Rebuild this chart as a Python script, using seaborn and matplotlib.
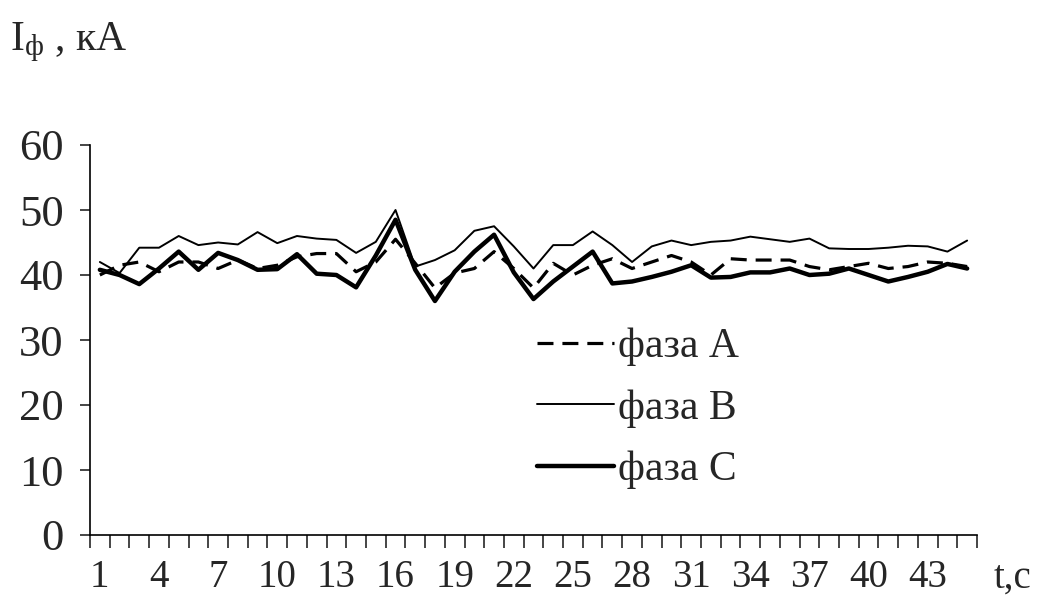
import numpy as np
import pandas as pd
import matplotlib
matplotlib.use("Agg")
import matplotlib.pyplot as plt
import seaborn as sns

# ── Data ──────────────────────────────────────────────────────────────────────
t = list(range(1, 46))
phase_a = [40, 41.5, 42, 40.5, 42, 42, 41, 42.3, 41, 41.5,
           42.8, 43.3, 43.3, 40.5, 42, 45.5, 41.8, 38, 40.3, 41,
           43.6, 41, 38, 41.8, 40, 41.5, 42.5, 41, 42, 43,
           42, 40, 42.5, 42.3, 42.3, 42.3, 41.3, 40.8, 41.3, 41.8,
           41, 41.3, 42, 41.8, 41.3]
phase_b = [42, 40.3, 44.2, 44.2, 46, 44.6, 45, 44.7, 46.6, 44.9,
           46, 45.6, 45.4, 43.4, 45.1, 50, 41.3, 42.3, 43.8, 46.8,
           47.5, 44.4, 41, 44.6, 44.6, 46.7, 44.6, 42, 44.4, 45.3,
           44.6, 45.1, 45.3, 45.9, 45.5, 45.1, 45.6, 44.1, 44, 44,
           44.2, 44.5, 44.4, 43.6, 45.3]
phase_c = [40.8, 40, 38.6, 41, 43.6, 40.8, 43.4, 42.3, 40.8, 40.9,
           43.2, 40.2, 40, 38.1, 43, 48.5, 40.8, 36, 40.5, 43.6,
           46.2, 40.4, 36.3, 39, 41.3, 43.6, 38.7, 39, 39.7, 40.5,
           41.5, 39.6, 39.7, 40.4, 40.4, 41, 40, 40.2, 41, 40,
           39, 39.7, 40.5, 41.7, 41]
x_labels = [str(v) for v in range(1, 46, 3)]
y_ticks = [0, 10, 20, 30, 40, 50, 60]
series_names = ["фаза А", "фаза В", "фаза С"]

df = pd.DataFrame({"t": t, series_names[0]: phase_a,
                   series_names[1]: phase_b, series_names[2]: phase_c})

# ── Style ─────────────────────────────────────────────────────────────────────
sns.set_style("ticks")
plt.rcParams["font.family"] = ["Liberation Serif", "DejaVu Serif"]
plt.rcParams["mathtext.fontset"] = "custom"
plt.rcParams["mathtext.rm"] = "Liberation Serif"

W, H = 1037, 601
fig = plt.figure(figsize=(W / 100, H / 100), dpi=100)
ax = fig.add_axes([90 / W, 1 - 535 / H, (977 - 90) / W, (535 - 145) / H])

line_kw = dict(color="black", ax=ax, legend=False)
sns.lineplot(data=df, x="t", y=series_names[0], linewidth=2.3,
             linestyle=(0, (5, 2.8)), label=series_names[0], **line_kw)
sns.lineplot(data=df, x="t", y=series_names[1], linewidth=1.4,
             label=series_names[1], **line_kw)
sns.lineplot(data=df, x="t", y=series_names[2], linewidth=3.2,
             label=series_names[2], **line_kw)

ax.set_xlim(0.5, 45.5)
ax.set_ylim(0, 60)
ax.set_yticks(y_ticks)
ax.set_xticks(list(range(1, 46, 3)))
ax.set_xticklabels(x_labels)
ax.set_xticks(np.arange(0.5, 46, 1), minor=True)
ax.tick_params(axis="x", which="major", length=0, pad=17, labelsize=28)
ax.tick_params(axis="x", which="minor", length=9, width=1.2, direction="out")
ax.tick_params(axis="y", length=7, width=1.2, pad=12, labelsize=32)
ax.set_xlabel("")
ax.set_ylabel("")
for s in ["top", "right"]:
    ax.spines[s].set_visible(False)
for s in ["left", "bottom"]:
    ax.spines[s].set_linewidth(1.2)
    ax.spines[s].set_color("black")

leg = ax.legend(loc="upper left", bbox_to_anchor=(537 / W, 1 - 328 / H),
                bbox_transform=fig.transFigure, frameon=False, fontsize=30,
                handlelength=1.85, handletextpad=0.1, labelspacing=0.55,
                borderpad=0, borderaxespad=0)

fig.text(1012 / W, 1 - 578 / H, "t,c", fontsize=28, ha="center", va="center")
fig.text(10 / W, 1 - 42 / H, r"$\mathregular{I_{ф}}$ , кА", fontsize=30,
         ha="left", va="center")

fig.savefig("out.png", dpi=100, facecolor="white")
